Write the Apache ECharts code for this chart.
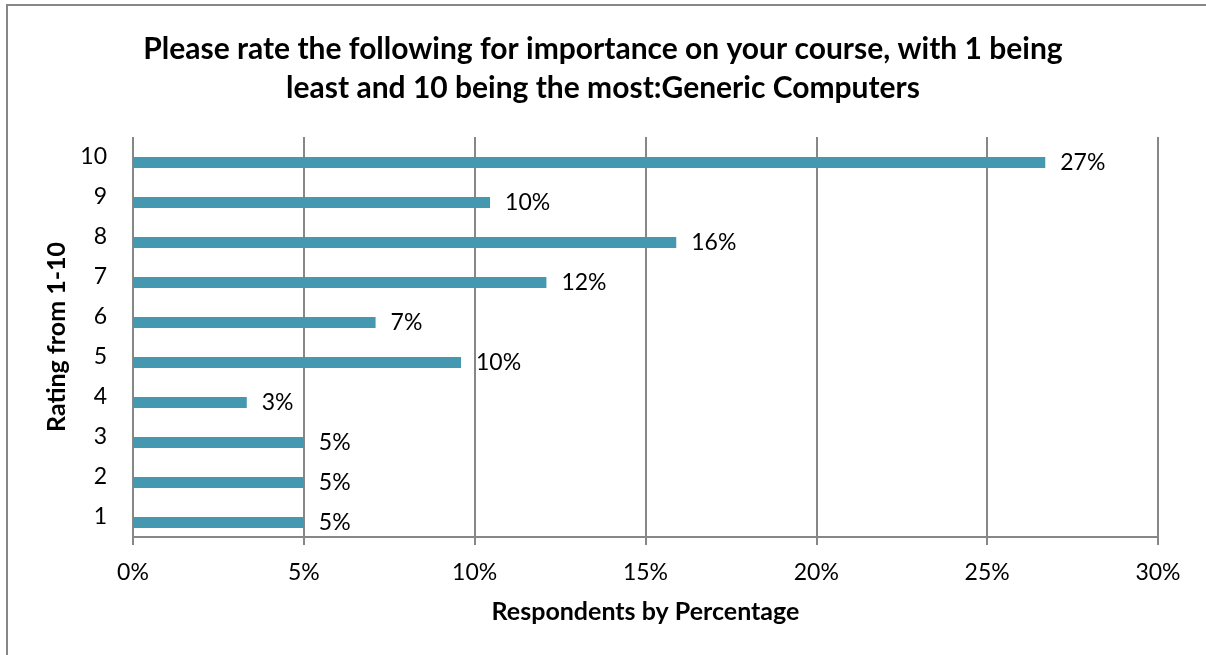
<!DOCTYPE html>
<html>
<head>
<meta charset="utf-8">
<script src="https://cdn.jsdelivr.net/npm/echarts@6/dist/echarts.min.js"></script>
<style>
  html, body { margin: 0; padding: 0; background: #ffffff; }
  #chart { width: 1206px; height: 655px; }
</style>
</head>
<body>
<div id="chart"></div>
<script>
// Rating categories, bottom to top
const ratings = ['1', '2', '3', '4', '5', '6', '7', '8', '9', '10'];
// Share of respondents (%) for each rating
const shares = [5.0, 5.0, 5.0, 3.33, 9.6, 7.1, 12.1, 15.9, 10.45, 26.7];
// Percentage axis ticks
const xTicks = { min: 0, max: 30, step: 5 };

const titleText = 'Please rate the following for importance on your course, with 1 being\nleast and 10 being the most:Generic Computers';
const FONT = 'Lato, "Open Sans", sans-serif';
const GRID = '#878787';

const chart = echarts.init(document.getElementById('chart'), null, { renderer: 'canvas' });

chart.setOption({
  backgroundColor: '#ffffff',
  animation: false,
  textStyle: { fontFamily: FONT },
  title: {
    text: titleText,
    left: 'center',
    top: 25,
    textStyle: { fontFamily: FONT, fontWeight: 'bold', fontSize: 30, lineHeight: 39, color: '#000000' }
  },
  graphic: [{
    type: 'rect',
    shape: { x: 7, y: 5, width: 1400, height: 800 },
    style: { fill: 'none', stroke: GRID, lineWidth: 2 },
    silent: true
  }],
  grid: { left: 133, right: 48, top: 137, bottom: 118, containLabel: false },
  xAxis: {
    type: 'value',
    min: xTicks.min,
    max: xTicks.max,
    interval: xTicks.step,
    name: 'Respondents by Percentage',
    nameLocation: 'middle',
    nameGap: 62,
    nameTextStyle: { fontFamily: FONT, fontWeight: 'bold', fontSize: 25, color: '#000000' },
    axisLine: { show: true, lineStyle: { color: GRID, width: 2 } },
    axisTick: { show: true, length: 8, lineStyle: { color: GRID, width: 2 } },
    axisLabel: { formatter: '{value}%', fontFamily: FONT, fontSize: 23, color: '#000000', margin: 24 },
    splitLine: { show: true, lineStyle: { color: GRID, width: 2 } }
  },
  yAxis: {
    type: 'category',
    data: ratings,
    name: 'Rating from 1-10',
    nameLocation: 'middle',
    nameRotate: 90,
    nameGap: 62,
    nameTextStyle: { fontFamily: FONT, fontWeight: 'bold', fontSize: 25, color: '#000000' },
    axisLine: { show: false },
    axisTick: { show: false },
    axisLabel: { fontFamily: FONT, fontSize: 23, color: '#000000', margin: 26 },
    splitLine: { show: false }
  },
  series: [
    {
      // empty companion series; keeps each visible bar in the lower half of its band
      type: 'bar',
      data: [],
      barWidth: 11,
      barGap: '0%'
    },
    {
      type: 'bar',
      data: shares,
      barWidth: 11,
      barGap: '0%',
      itemStyle: { color: '#4499b1' },
      label: {
        show: true,
        position: 'right',
        distance: 15,
        fontFamily: FONT,
        fontSize: 23,
        color: '#000000',
        formatter: p => Math.round(p.value) + '%'
      }
    }
  ]
});
</script>
</body>
</html>
